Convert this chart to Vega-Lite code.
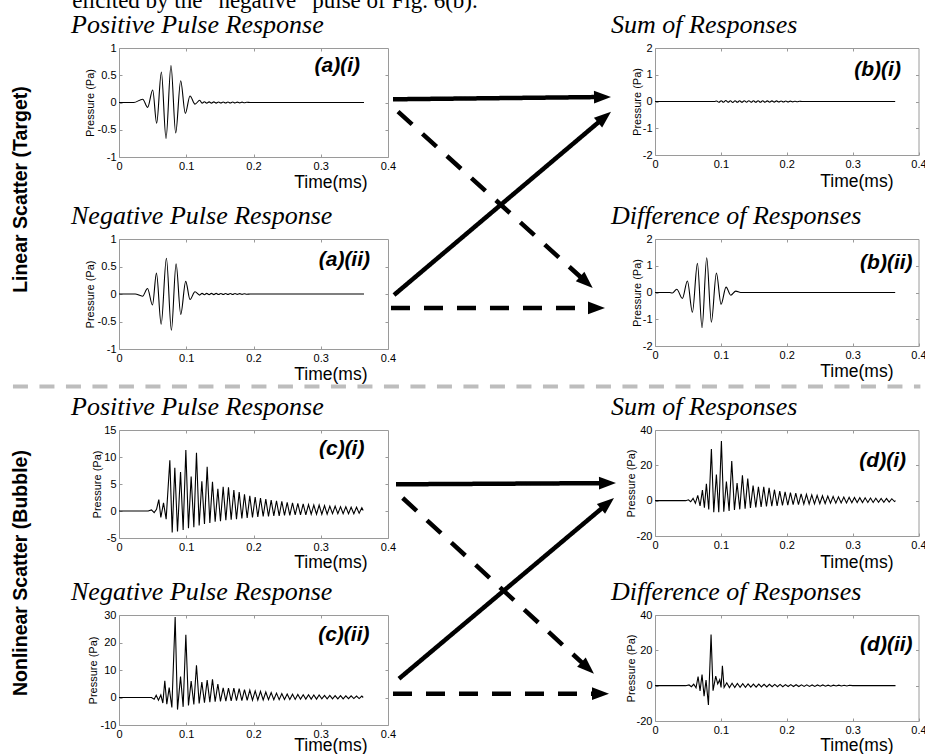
{
  "$schema": "https://vega.github.io/schema/vega-lite/v6.json",
  "padding": 0,
  "background": "white",
  "config": {
    "view": {"stroke": "#9a9a9a", "strokeWidth": 1},
    "font": "Liberation Sans",
    "title": {"font": "Liberation Serif", "fontStyle": "italic", "fontWeight": "normal", "fontSize": 26, "anchor": "start", "frame": "group", "baseline": "alphabetic", "offset": 4.5, "color": "#000"},
    "axis": {"minExtent": 0, "labelFont": "Liberation Sans", "labelFontSize": 11, "labelColor": "#000", "labelPadding": 6, "labelFlush": false, "labelOverlap": false, "domain": false, "grid": false, "tickSize": -3, "tickColor": "#9a9a9a", "tickWidth": 1, "titleFont": "Liberation Sans", "titleFontWeight": "normal", "titleColor": "#000", "titlePadding": 0},
    "axisX": {"minExtent": 0, "titleAlign": "right", "titleBaseline": "middle", "titleFontSize": 17.5},
    "axisY": {"minExtent": 0, "titleAngle": 270, "titleAlign": "center", "titleBaseline": "middle", "titleFontSize": 11},
    "axisTop": {"minExtent": 0},
    "axisRight": {"minExtent": 0}
  },
  "datasets": {
    "ai": [{"t":0,"p":0},{"t":0.022,"p":0},{"t":0.0352,"p":0.06},{"t":0.0426,"p":-0.09},{"t":0.0501,"p":0.23},{"t":0.056,"p":-0.38},{"t":0.063,"p":0.56},{"t":0.0699,"p":-0.66},{"t":0.0773,"p":0.68},{"t":0.0843,"p":-0.56},{"t":0.0917,"p":0.4},{"t":0.0986,"p":-0.2},{"t":0.1056,"p":0.12},{"t":0.113,"p":-0.03},{"t":0.12,"p":0.04},{"t":0.1235,"p":-0.012},{"t":0.127,"p":0.013},{"t":0.1305,"p":-0.012},{"t":0.134,"p":0.012},{"t":0.1375,"p":-0.011},{"t":0.141,"p":0.011},{"t":0.1445,"p":-0.011},{"t":0.148,"p":0.01},{"t":0.1515,"p":-0.01},{"t":0.155,"p":0.01},{"t":0.1585,"p":-0.009},{"t":0.162,"p":0.009},{"t":0.1655,"p":-0.009},{"t":0.169,"p":0.008},{"t":0.1725,"p":-0.008},{"t":0.176,"p":0.007},{"t":0.1795,"p":-0.007},{"t":0.183,"p":0.006},{"t":0.1865,"p":-0.005},{"t":0.19,"p":0.004},{"t":0.195,"p":0},{"t":0.3643,"p":0}],
    "aii": [{"t":0,"p":0},{"t":0.024,"p":0},{"t":0.035,"p":-0.04},{"t":0.0424,"p":0.1},{"t":0.0498,"p":-0.2},{"t":0.0557,"p":0.38},{"t":0.0627,"p":-0.55},{"t":0.0705,"p":0.65},{"t":0.0779,"p":-0.66},{"t":0.0849,"p":0.55},{"t":0.0918,"p":-0.37},{"t":0.0992,"p":0.23},{"t":0.1056,"p":-0.1},{"t":0.113,"p":0.04},{"t":0.1199,"p":-0.02},{"t":0.1235,"p":0.012},{"t":0.127,"p":-0.013},{"t":0.1305,"p":0.012},{"t":0.134,"p":-0.012},{"t":0.1375,"p":0.011},{"t":0.141,"p":-0.011},{"t":0.1445,"p":0.011},{"t":0.148,"p":-0.01},{"t":0.1515,"p":0.01},{"t":0.155,"p":-0.01},{"t":0.1585,"p":0.009},{"t":0.162,"p":-0.009},{"t":0.1655,"p":0.009},{"t":0.169,"p":-0.008},{"t":0.1725,"p":0.008},{"t":0.176,"p":-0.007},{"t":0.1795,"p":0.007},{"t":0.183,"p":-0.006},{"t":0.1865,"p":0.005},{"t":0.19,"p":-0.004},{"t":0.195,"p":0},{"t":0.3643,"p":0}],
    "bi": [{"t":0,"p":0},{"t":0.09,"p":0},{"t":0.0935,"p":0.02},{"t":0.097,"p":-0.03},{"t":0.1005,"p":0.03},{"t":0.104,"p":-0.03},{"t":0.1075,"p":0.035},{"t":0.111,"p":-0.03},{"t":0.1145,"p":0.03},{"t":0.118,"p":-0.035},{"t":0.1215,"p":0.03},{"t":0.125,"p":-0.03},{"t":0.1285,"p":0.03},{"t":0.132,"p":-0.03},{"t":0.1355,"p":0.03},{"t":0.139,"p":-0.028},{"t":0.1425,"p":0.03},{"t":0.146,"p":-0.028},{"t":0.1495,"p":0.028},{"t":0.153,"p":-0.028},{"t":0.1565,"p":0.027},{"t":0.16,"p":-0.027},{"t":0.1635,"p":0.026},{"t":0.167,"p":-0.026},{"t":0.1705,"p":0.025},{"t":0.174,"p":-0.025},{"t":0.1775,"p":0.024},{"t":0.181,"p":-0.023},{"t":0.1845,"p":0.022},{"t":0.188,"p":-0.021},{"t":0.1915,"p":0.02},{"t":0.195,"p":-0.019},{"t":0.1985,"p":0.018},{"t":0.202,"p":-0.017},{"t":0.2055,"p":0.015},{"t":0.209,"p":-0.013},{"t":0.2125,"p":0.012},{"t":0.216,"p":-0.01},{"t":0.2195,"p":0.008},{"t":0.223,"p":0},{"t":0.3646,"p":0}],
    "bii": [{"t":0,"p":0},{"t":0.022,"p":0},{"t":0.0264,"p":-0.02},{"t":0.033,"p":0.12},{"t":0.0416,"p":-0.22},{"t":0.0492,"p":0.43},{"t":0.0568,"p":-0.74},{"t":0.0644,"p":1.09},{"t":0.0714,"p":-1.32},{"t":0.0785,"p":1.3},{"t":0.0856,"p":-1.11},{"t":0.0932,"p":0.73},{"t":0.1003,"p":-0.44},{"t":0.1079,"p":0.2},{"t":0.115,"p":-0.1},{"t":0.1226,"p":0.05},{"t":0.13,"p":0},{"t":0.3646,"p":0}],
    "ci": [{"t":0,"p":0},{"t":0.0434,"p":0},{"t":0.0483,"p":0.2},{"t":0.0523,"p":-0.3},{"t":0.0558,"p":0.3},{"t":0.0592,"p":2.1},{"t":0.0622,"p":-1.2},{"t":0.0662,"p":1.5},{"t":0.0701,"p":-1.5},{"t":0.0756,"p":9.4},{"t":0.0791,"p":-4.0},{"t":0.083,"p":8.0},{"t":0.087,"p":-3.8},{"t":0.0915,"p":7.2},{"t":0.0954,"p":-3.5},{"t":0.0994,"p":11.3},{"t":0.1033,"p":-3.2},{"t":0.1073,"p":6.4},{"t":0.1113,"p":-3.0},{"t":0.1152,"p":10.8},{"t":0.1192,"p":-2.7},{"t":0.1232,"p":5.5},{"t":0.1271,"p":-2.4},{"t":0.1311,"p":8.2},{"t":0.1351,"p":-2.2},{"t":0.139,"p":5.4},{"t":0.143,"p":-2.0},{"t":0.147,"p":4.1},{"t":0.1509,"p":-1.9},{"t":0.1549,"p":4.5},{"t":0.1589,"p":-1.7},{"t":0.1628,"p":4.4},{"t":0.1668,"p":-1.6},{"t":0.1708,"p":3.9},{"t":0.1747,"p":-1.5},{"t":0.1787,"p":3.5},{"t":0.1827,"p":-1.4},{"t":0.1866,"p":3.1},{"t":0.1906,"p":-1.3},{"t":0.1945,"p":2.8},{"t":0.1985,"p":-1.2},{"t":0.2025,"p":2.6},{"t":0.2064,"p":-1.1},{"t":0.2104,"p":2.4},{"t":0.2144,"p":-1.0},{"t":0.2183,"p":2.2},{"t":0.2223,"p":-1.0},{"t":0.2263,"p":2.0},{"t":0.2302,"p":-0.9},{"t":0.2342,"p":1.9},{"t":0.2382,"p":-0.9},{"t":0.2421,"p":1.8},{"t":0.2461,"p":-0.8},{"t":0.2501,"p":1.6},{"t":0.254,"p":-0.8},{"t":0.258,"p":1.5},{"t":0.262,"p":-0.7},{"t":0.2659,"p":1.4},{"t":0.2699,"p":-0.7},{"t":0.2739,"p":1.3},{"t":0.2778,"p":-0.7},{"t":0.2818,"p":1.2},{"t":0.2858,"p":-0.6},{"t":0.2897,"p":1.1},{"t":0.2937,"p":-0.6},{"t":0.2976,"p":1.1},{"t":0.3016,"p":-0.6},{"t":0.3056,"p":1.0},{"t":0.3095,"p":-0.6},{"t":0.3135,"p":0.9},{"t":0.3175,"p":-0.5},{"t":0.3214,"p":0.9},{"t":0.3254,"p":-0.5},{"t":0.3294,"p":0.8},{"t":0.3333,"p":-0.5},{"t":0.3373,"p":0.8},{"t":0.3413,"p":-0.5},{"t":0.3452,"p":0.7},{"t":0.3492,"p":-0.5},{"t":0.3532,"p":0.7},{"t":0.3571,"p":-0.4},{"t":0.3611,"p":0.6},{"t":0.3631,"p":0.1}],
    "cii": [{"t":0,"p":0},{"t":0.0483,"p":0},{"t":0.0523,"p":-0.6},{"t":0.0553,"p":0.8},{"t":0.0587,"p":-1.0},{"t":0.0622,"p":0.9},{"t":0.0652,"p":-2.0},{"t":0.0681,"p":6.1},{"t":0.0711,"p":-2.4},{"t":0.0746,"p":3.6},{"t":0.0786,"p":-3.6},{"t":0.0835,"p":29.3},{"t":0.087,"p":-4.4},{"t":0.0915,"p":7.6},{"t":0.0954,"p":-3.4},{"t":0.0994,"p":22.8},{"t":0.1033,"p":-2.9},{"t":0.1073,"p":6.0},{"t":0.1113,"p":-2.5},{"t":0.1152,"p":11.7},{"t":0.1192,"p":-2.2},{"t":0.1232,"p":5.6},{"t":0.1271,"p":-1.9},{"t":0.1311,"p":6.3},{"t":0.1351,"p":-1.7},{"t":0.139,"p":6.6},{"t":0.143,"p":-1.5},{"t":0.147,"p":4.9},{"t":0.1509,"p":-1.4},{"t":0.1549,"p":3.5},{"t":0.1589,"p":-1.3},{"t":0.1628,"p":3.4},{"t":0.1668,"p":-1.2},{"t":0.1708,"p":3.4},{"t":0.1747,"p":-1.1},{"t":0.1787,"p":3.2},{"t":0.1827,"p":-1.1},{"t":0.1866,"p":2.9},{"t":0.1906,"p":-1.0},{"t":0.1945,"p":2.7},{"t":0.1985,"p":-1.0},{"t":0.2025,"p":2.4},{"t":0.2064,"p":-0.9},{"t":0.2104,"p":2.2},{"t":0.2144,"p":-0.9},{"t":0.2183,"p":2.0},{"t":0.2223,"p":-0.8},{"t":0.2263,"p":1.8},{"t":0.2302,"p":-0.8},{"t":0.2342,"p":1.6},{"t":0.2382,"p":-0.8},{"t":0.2421,"p":1.4},{"t":0.2461,"p":-0.7},{"t":0.2501,"p":1.3},{"t":0.254,"p":-0.7},{"t":0.258,"p":1.2},{"t":0.262,"p":-0.7},{"t":0.2659,"p":1.1},{"t":0.2699,"p":-0.6},{"t":0.2739,"p":1.0},{"t":0.2778,"p":-0.6},{"t":0.2818,"p":1.0},{"t":0.2858,"p":-0.6},{"t":0.2897,"p":0.9},{"t":0.2937,"p":-0.6},{"t":0.2976,"p":0.9},{"t":0.3016,"p":-0.5},{"t":0.3056,"p":0.8},{"t":0.3095,"p":-0.5},{"t":0.3135,"p":0.8},{"t":0.3175,"p":-0.5},{"t":0.3214,"p":0.7},{"t":0.3254,"p":-0.5},{"t":0.3294,"p":0.7},{"t":0.3333,"p":-0.5},{"t":0.3373,"p":0.6},{"t":0.3413,"p":-0.4},{"t":0.3452,"p":0.6},{"t":0.3492,"p":-0.4},{"t":0.3532,"p":0.5},{"t":0.3571,"p":-0.4},{"t":0.3611,"p":0.5},{"t":0.3631,"p":0}],
    "di": [{"t":0,"p":0},{"t":0.0466,"p":0},{"t":0.0507,"p":0.5},{"t":0.0542,"p":-0.6},{"t":0.0578,"p":1.3},{"t":0.0613,"p":-1.5},{"t":0.0649,"p":3.0},{"t":0.0684,"p":-3.0},{"t":0.072,"p":6.0},{"t":0.075,"p":-4.0},{"t":0.078,"p":9.6},{"t":0.0816,"p":-5.0},{"t":0.0856,"p":29.3},{"t":0.0892,"p":-6.5},{"t":0.0932,"p":14.8},{"t":0.0968,"p":-6.6},{"t":0.1008,"p":33.8},{"t":0.1044,"p":-6.3},{"t":0.1084,"p":10.8},{"t":0.1125,"p":-5.8},{"t":0.1165,"p":22.5},{"t":0.1206,"p":-5.3},{"t":0.1246,"p":10.0},{"t":0.1287,"p":-4.9},{"t":0.1327,"p":14.3},{"t":0.1368,"p":-4.5},{"t":0.1408,"p":12.5},{"t":0.1449,"p":-4.1},{"t":0.1489,"p":8.6},{"t":0.153,"p":-3.8},{"t":0.157,"p":7.9},{"t":0.1611,"p":-3.5},{"t":0.1651,"p":7.8},{"t":0.1692,"p":-3.3},{"t":0.1732,"p":7.2},{"t":0.1773,"p":-3.1},{"t":0.1813,"p":6.2},{"t":0.1854,"p":-2.9},{"t":0.1894,"p":5.4},{"t":0.1935,"p":-2.7},{"t":0.1975,"p":5.0},{"t":0.2016,"p":-2.5},{"t":0.2056,"p":4.6},{"t":0.2097,"p":-2.3},{"t":0.2137,"p":4.2},{"t":0.2178,"p":-2.2},{"t":0.2218,"p":3.9},{"t":0.2259,"p":-2.0},{"t":0.2299,"p":3.6},{"t":0.234,"p":-1.9},{"t":0.238,"p":3.3},{"t":0.2421,"p":-1.8},{"t":0.2461,"p":3.0},{"t":0.2502,"p":-1.7},{"t":0.2542,"p":2.8},{"t":0.2583,"p":-1.6},{"t":0.2623,"p":2.6},{"t":0.2664,"p":-1.5},{"t":0.2704,"p":2.4},{"t":0.2745,"p":-1.4},{"t":0.2785,"p":2.2},{"t":0.2826,"p":-1.3},{"t":0.2866,"p":2.0},{"t":0.2907,"p":-1.3},{"t":0.2947,"p":1.9},{"t":0.2988,"p":-1.2},{"t":0.3028,"p":1.8},{"t":0.3069,"p":-1.1},{"t":0.3109,"p":1.7},{"t":0.315,"p":-1.1},{"t":0.319,"p":1.6},{"t":0.3231,"p":-1.0},{"t":0.3271,"p":1.5},{"t":0.3312,"p":-1.0},{"t":0.3352,"p":1.4},{"t":0.3393,"p":-0.9},{"t":0.3433,"p":1.3},{"t":0.3474,"p":-0.9},{"t":0.3514,"p":1.2},{"t":0.3555,"p":-0.8},{"t":0.3595,"p":1.1},{"t":0.3636,"p":-0.5},{"t":0.3651,"p":0}],
    "dii": [{"t":0,"p":0},{"t":0.0466,"p":0},{"t":0.0517,"p":0.4},{"t":0.0552,"p":-0.6},{"t":0.0588,"p":0.8},{"t":0.0623,"p":-1.2},{"t":0.0654,"p":5.2},{"t":0.0684,"p":-3.0},{"t":0.0714,"p":6.3},{"t":0.0745,"p":-6.0},{"t":0.0775,"p":3.2},{"t":0.0811,"p":-10.9},{"t":0.0851,"p":28.9},{"t":0.0881,"p":-2.8},{"t":0.0922,"p":5.4},{"t":0.0952,"p":1.0},{"t":0.0983,"p":3.4},{"t":0.1003,"p":-1.0},{"t":0.1023,"p":11.3},{"t":0.1049,"p":-1.0},{"t":0.1089,"p":1.6},{"t":0.113,"p":-1.1},{"t":0.117,"p":1.4},{"t":0.1211,"p":-1.0},{"t":0.1251,"p":1.2},{"t":0.1292,"p":-0.9},{"t":0.1332,"p":1.1},{"t":0.1373,"p":-0.9},{"t":0.1413,"p":1.0},{"t":0.1454,"p":-0.8},{"t":0.1494,"p":0.9},{"t":0.1535,"p":-0.8},{"t":0.1575,"p":0.9},{"t":0.1616,"p":-0.7},{"t":0.1656,"p":0.8},{"t":0.1697,"p":-0.7},{"t":0.1737,"p":0.8},{"t":0.1778,"p":-0.6},{"t":0.1818,"p":0.7},{"t":0.1859,"p":-0.6},{"t":0.1899,"p":0.7},{"t":0.194,"p":-0.6},{"t":0.198,"p":0.6},{"t":0.2021,"p":-0.5},{"t":0.2061,"p":0.6},{"t":0.2102,"p":-0.5},{"t":0.2142,"p":0.5},{"t":0.2183,"p":-0.5},{"t":0.2223,"p":0.5},{"t":0.2264,"p":-0.4},{"t":0.2304,"p":0.5},{"t":0.2345,"p":-0.4},{"t":0.2385,"p":0.4},{"t":0.2426,"p":-0.4},{"t":0.2466,"p":0.4},{"t":0.2507,"p":-0.3},{"t":0.2547,"p":0.4},{"t":0.2588,"p":-0.3},{"t":0.2628,"p":0.3},{"t":0.2669,"p":-0.3},{"t":0.2709,"p":0.3},{"t":0.275,"p":-0.2},{"t":0.279,"p":0.3},{"t":0.2831,"p":-0.2},{"t":0.2871,"p":0.2},{"t":0.2912,"p":-0.2},{"t":0.2952,"p":0.2},{"t":0.3,"p":0},{"t":0.3651,"p":0}],
    "arrowsTop": [
      {"arrow": "a(i) to b(ii)", "kind": "dashed", "x1": 3.75, "y1": 21.16, "x2": 74.31, "y2": 77.84},
      {"arrow": "a(ii) to b(ii)", "kind": "dashed", "x1": 1.12, "y1": 86.38, "x2": 78.09, "y2": 86.38},
      {"arrow": "a(i) to b(i)", "kind": "solid", "x1": 1.87, "y1": 17.04, "x2": 80.34, "y2": 16.28},
      {"arrow": "a(ii) to b(i)", "kind": "solid", "x1": 2.25, "y1": 82.06, "x2": 81.09, "y2": 22.99}
    ],
    "arrowsBottom": [
      {"arrow": "c(i) to d(ii)", "kind": "dashed", "x1": 5.51, "y1": 23.05, "x2": 74.79, "y2": 80.64},
      {"arrow": "c(ii) to d(ii)", "kind": "dashed", "x1": 1.87, "y1": 89.39, "x2": 79.59, "y2": 89.39},
      {"arrow": "c(i) to d(i)", "kind": "solid", "x1": 3.0, "y1": 18.41, "x2": 82.21, "y2": 18.0},
      {"arrow": "c(ii) to d(i)", "kind": "solid", "x1": 4.12, "y1": 84.31, "x2": 82.21, "y2": 24.92}
    ]
  },
  "spacing": -8,
  "vconcat": [
    {
      "width": 925, "height": 19, "view": {"stroke": null},
      "data": {"values": [{"txt": "elicited by the “negative” pulse of Fig. 6(b)."}]},
      "mark": {"type": "text", "font": "Liberation Serif", "fontSize": 23, "align": "left", "baseline": "alphabetic", "clip": true, "color": "#000"},
      "encoding": {
        "x": {"datum": 0.078, "type": "quantitative", "scale": {"domain": [0, 1], "nice": false, "zero": false}, "axis": null},
        "y": {"datum": 0.41, "type": "quantitative", "scale": {"domain": [0, 1], "nice": false, "zero": false, "reverse": true}, "axis": null},
        "text": {"field": "txt", "type": "nominal"}
      }
    },
    {
      "spacing": 28,
      "hconcat": [
        {
          "width": 42, "height": 330, "view": {"stroke": null},
          "data": {"values": [{"txt": "Linear Scatter (Target)"}]},
          "mark": {"type": "text", "angle": 270, "font": "Liberation Sans", "fontWeight": "bold", "fontSize": 19.5, "align": "center", "baseline": "middle", "color": "#000"},
          "encoding": {
            "x": {"datum": 0.5, "type": "quantitative", "scale": {"domain": [0, 1], "nice": false, "zero": false}, "axis": null},
            "y": {"datum": 0.429, "type": "quantitative", "scale": {"domain": [0, 1], "nice": false, "zero": false, "reverse": true}, "axis": null},
            "text": {"field": "txt", "type": "nominal"}
          }
        },
        {
          "columns": 3, "bounds": "flush", "align": "each", "spacing": {"row": 0, "column": 0},
          "concat": [
            {
              "width": 269, "height": 109,
              "title": {"text": "Positive Pulse Response", "dx": -48},
              "layer": [
                {"data": {"name": "ai"}, "mark": {"type": "line", "color": "#000", "strokeWidth": 1.1, "interpolate": "monotone"},
                 "encoding": {
                   "x": {"field": "t", "type": "quantitative", "scale": {"domain": [0, 0.4], "nice": false, "zero": false}, "axis": {"values": [0, 0.1, 0.2, 0.3, 0.4], "labelExpr": "'' + datum.value", "title": "Time(ms)", "titleX": 248, "titleY": 25}},
                   "y": {"field": "p", "type": "quantitative", "scale": {"domain": [-1, 1], "nice": false, "zero": false}, "axis": {"values": [-1, -0.5, 0, 0.5, 1], "labelExpr": "'' + datum.value", "title": "Pressure (Pa)", "titleX": -29, "titleY": 54.5}}
                 }},
                {"data": {"values": [{"lab": "(a)(i)"}]}, "mark": {"type": "text", "font": "Liberation Sans", "fontWeight": "bold", "fontStyle": "italic", "fontSize": 21, "align": "right", "baseline": "middle", "color": "#000"},
                 "encoding": {
                   "x": {"datum": 0.3584, "type": "quantitative", "scale": {"domain": [0, 0.4], "nice": false, "zero": false}, "axis": {"orient": "top", "values": [0.1, 0.2, 0.3], "labels": false, "title": null}},
                   "y": {"datum": 0.67, "type": "quantitative", "scale": {"domain": [-1, 1], "nice": false, "zero": false}, "axis": {"orient": "right", "values": [-0.5, 0, 0.5], "labels": false, "title": null}},
                   "text": {"field": "lab", "type": "nominal"}
                 }}
              ],
              "resolve": {"axis": {"x": "independent", "y": "independent"}}
            },
            {
              "width": 267, "height": 191, "view": {"stroke": null},
              "data": {"name": "arrowsTop"},
              "transform": [{"calculate": "atan2((datum.y2 - datum.y1) * 3.01, (datum.x2 - datum.x1) * 2.67) * 180 / PI", "as": "ang"}],
              "layer": [
                {"mark": {"type": "rule", "strokeWidth": 4.5, "color": "#000", "strokeCap": "butt", "clip": true},
                 "encoding": {
                   "x": {"field": "x1", "type": "quantitative", "scale": {"domain": [0, 100], "nice": false, "zero": false}, "axis": null},
                   "y": {"field": "y1", "type": "quantitative", "scale": {"domain": [0, 63.46], "nice": false, "zero": false, "reverse": true}, "axis": null},
                   "x2": {"field": "x2"},
                   "y2": {"field": "y2"},
                   "strokeDash": {"field": "kind", "type": "nominal", "scale": {"domain": ["solid", "dashed"], "range": [[1, 0], [19, 14]]}, "legend": null}
                 }},
                {"mark": {"type": "point", "shape": "M-1,-0.75L1,0L-1,0.75Z", "filled": true, "size": 289, "color": "#000", "opacity": 1, "strokeWidth": 0, "clip": true},
                 "encoding": {
                   "x": {"field": "x2", "type": "quantitative"},
                   "y": {"field": "y2", "type": "quantitative"},
                   "angle": {"field": "ang", "type": "quantitative", "scale": null}
                 }}
              ]
            },
            {
              "width": 263.5, "height": 107,
              "title": {"text": "Sum of Responses", "dx": -44},
              "layer": [
                {"data": {"name": "bi"}, "mark": {"type": "line", "color": "#000", "strokeWidth": 1.1, "interpolate": "monotone"},
                 "encoding": {
                   "x": {"field": "t", "type": "quantitative", "scale": {"domain": [0, 0.4], "nice": false, "zero": false}, "axis": {"values": [0, 0.1, 0.2, 0.3, 0.4], "labelExpr": "'' + datum.value", "title": "Time(ms)", "titleX": 238, "titleY": 26}},
                   "y": {"field": "p", "type": "quantitative", "scale": {"domain": [-2, 2], "nice": false, "zero": false}, "axis": {"values": [-2, -1, 0, 1, 2], "labelExpr": "'' + datum.value", "title": "Pressure (Pa)", "titleX": -18, "titleY": 53.5}}
                 }},
                {"data": {"values": [{"lab": "(b)(i)"}]}, "mark": {"type": "text", "font": "Liberation Sans", "fontWeight": "bold", "fontStyle": "italic", "fontSize": 21, "align": "right", "baseline": "middle", "color": "#000"},
                 "encoding": {
                   "x": {"datum": 0.3733, "type": "quantitative", "scale": {"domain": [0, 0.4], "nice": false, "zero": false}, "axis": {"orient": "top", "values": [0.1, 0.2, 0.3], "labels": false, "title": null}},
                   "y": {"datum": 1.178, "type": "quantitative", "scale": {"domain": [-2, 2], "nice": false, "zero": false}, "axis": {"orient": "right", "values": [-1, 0, 1], "labels": false, "title": null}},
                   "text": {"field": "lab", "type": "nominal"}
                 }}
              ],
              "resolve": {"axis": {"x": "independent", "y": "independent"}}
            },
            {
              "width": 269, "height": 110,
              "title": {"text": "Negative Pulse Response", "dx": -48},
              "layer": [
                {"data": {"name": "aii"}, "mark": {"type": "line", "color": "#000", "strokeWidth": 1.1, "interpolate": "monotone"},
                 "encoding": {
                   "x": {"field": "t", "type": "quantitative", "scale": {"domain": [0, 0.4], "nice": false, "zero": false}, "axis": {"values": [0, 0.1, 0.2, 0.3, 0.4], "labelExpr": "'' + datum.value", "title": "Time(ms)", "titleX": 248, "titleY": 25}},
                   "y": {"field": "p", "type": "quantitative", "scale": {"domain": [-1, 1], "nice": false, "zero": false}, "axis": {"values": [-1, -0.5, 0, 0.5, 1], "labelExpr": "'' + datum.value", "title": "Pressure (Pa)", "titleX": -29, "titleY": 55}}
                 }},
                {"data": {"values": [{"lab": "(a)(ii)"}]}, "mark": {"type": "text", "font": "Liberation Sans", "fontWeight": "bold", "fontStyle": "italic", "fontSize": 21, "align": "right", "baseline": "middle", "color": "#000"},
                 "encoding": {
                   "x": {"datum": 0.3733, "type": "quantitative", "scale": {"domain": [0, 0.4], "nice": false, "zero": false}, "axis": {"orient": "top", "values": [0.1, 0.2, 0.3], "labels": false, "title": null}},
                   "y": {"datum": 0.618, "type": "quantitative", "scale": {"domain": [-1, 1], "nice": false, "zero": false}, "axis": {"orient": "right", "values": [-0.5, 0, 0.5], "labels": false, "title": null}},
                   "text": {"field": "lab", "type": "nominal"}
                 }}
              ],
              "resolve": {"axis": {"x": "independent", "y": "independent"}}
            },
            {
              "width": 267, "height": 110, "view": {"stroke": null},
              "data": {"name": "arrowsTop"},
              "transform": [{"calculate": "atan2((datum.y2 - datum.y1) * 3.01, (datum.x2 - datum.x1) * 2.67) * 180 / PI", "as": "ang"}],
              "layer": [
                {"mark": {"type": "rule", "strokeWidth": 4.5, "color": "#000", "strokeCap": "butt", "clip": true},
                 "encoding": {
                   "x": {"field": "x1", "type": "quantitative", "scale": {"domain": [0, 100], "nice": false, "zero": false}, "axis": null},
                   "y": {"field": "y1", "type": "quantitative", "scale": {"domain": [63.46, 100], "nice": false, "zero": false, "reverse": true}, "axis": null},
                   "x2": {"field": "x2"},
                   "y2": {"field": "y2"},
                   "strokeDash": {"field": "kind", "type": "nominal", "scale": {"domain": ["solid", "dashed"], "range": [[1, 0], [19, 14]]}, "legend": null}
                 }},
                {"mark": {"type": "point", "shape": "M-1,-0.75L1,0L-1,0.75Z", "filled": true, "size": 289, "color": "#000", "opacity": 1, "strokeWidth": 0, "clip": true},
                 "encoding": {
                   "x": {"field": "x2", "type": "quantitative"},
                   "y": {"field": "y2", "type": "quantitative"},
                   "angle": {"field": "ang", "type": "quantitative", "scale": null}
                 }}
              ]
            },
            {
              "width": 263.5, "height": 107,
              "title": {"text": "Difference of Responses", "dx": -44},
              "layer": [
                {"data": {"name": "bii"}, "mark": {"type": "line", "color": "#000", "strokeWidth": 1.1, "interpolate": "monotone"},
                 "encoding": {
                   "x": {"field": "t", "type": "quantitative", "scale": {"domain": [0, 0.4], "nice": false, "zero": false}, "axis": {"values": [0, 0.1, 0.2, 0.3, 0.4], "labelExpr": "'' + datum.value", "title": "Time(ms)", "titleX": 238, "titleY": 25}},
                   "y": {"field": "p", "type": "quantitative", "scale": {"domain": [-2, 2], "nice": false, "zero": false}, "axis": {"values": [-2, -1, 0, 1, 2], "labelExpr": "'' + datum.value", "title": "Pressure (Pa)", "titleX": -18, "titleY": 53.5}}
                 }},
                {"data": {"values": [{"lab": "(b)(ii)"}]}, "mark": {"type": "text", "font": "Liberation Sans", "fontWeight": "bold", "fontStyle": "italic", "fontSize": 21, "align": "right", "baseline": "middle", "color": "#000"},
                 "encoding": {
                   "x": {"datum": 0.391, "type": "quantitative", "scale": {"domain": [0, 0.4], "nice": false, "zero": false}, "axis": {"orient": "top", "values": [0.1, 0.2, 0.3], "labels": false, "title": null}},
                   "y": {"datum": 1.12, "type": "quantitative", "scale": {"domain": [-2, 2], "nice": false, "zero": false}, "axis": {"orient": "right", "values": [-1, 0, 1], "labels": false, "title": null}},
                   "text": {"field": "lab", "type": "nominal"}
                 }}
              ],
              "resolve": {"axis": {"x": "independent", "y": "independent"}}
            }
          ]
        }
      ]
    },
    {
      "width": 925, "height": 18, "view": {"stroke": null},
      "data": {"values": [{"divider": "linear / nonlinear"}]},
      "mark": {"type": "rule", "color": "#bdbdbd", "strokeWidth": 4, "strokeDash": [15, 11.5]},
      "encoding": {
        "x": {"datum": 0.014, "type": "quantitative", "scale": {"domain": [0, 1], "nice": false, "zero": false}, "axis": null},
        "x2": {"datum": 0.995},
        "y": {"datum": 0.194, "type": "quantitative", "scale": {"domain": [0, 1], "nice": false, "zero": false, "reverse": true}, "axis": null}
      }
    },
    {
      "spacing": 28,
      "hconcat": [
        {
          "width": 42, "height": 320, "view": {"stroke": null},
          "data": {"values": [{"txt": "Nonlinear Scatter (Bubble)"}]},
          "mark": {"type": "text", "angle": 270, "font": "Liberation Sans", "fontWeight": "bold", "fontSize": 19.5, "align": "center", "baseline": "middle", "color": "#000"},
          "encoding": {
            "x": {"datum": 0.5, "type": "quantitative", "scale": {"domain": [0, 1], "nice": false, "zero": false}, "axis": null},
            "y": {"datum": 0.447, "type": "quantitative", "scale": {"domain": [0, 1], "nice": false, "zero": false, "reverse": true}, "axis": null},
            "text": {"field": "txt", "type": "nominal"}
          }
        },
        {
          "columns": 3, "bounds": "flush", "align": "each", "spacing": {"row": 0, "column": 0},
          "concat": [
            {
              "width": 269, "height": 108,
              "title": {"text": "Positive Pulse Response", "dx": -48},
              "layer": [
                {"data": {"name": "ci"}, "mark": {"type": "line", "color": "#000", "strokeWidth": 1.1},
                 "encoding": {
                   "x": {"field": "t", "type": "quantitative", "scale": {"domain": [0, 0.4], "nice": false, "zero": false}, "axis": {"values": [0, 0.1, 0.2, 0.3, 0.4], "labelExpr": "'' + datum.value", "title": "Time(ms)", "titleX": 248, "titleY": 24}},
                   "y": {"field": "p", "type": "quantitative", "scale": {"domain": [-5, 15], "nice": false, "zero": false}, "axis": {"values": [-5, 0, 5, 10, 15], "labelExpr": "'' + datum.value", "title": "Pressure (Pa)", "titleX": -21.5, "titleY": 54}}
                 }},
                {"data": {"values": [{"lab": "(c)(i)"}]}, "mark": {"type": "text", "font": "Liberation Sans", "fontWeight": "bold", "fontStyle": "italic", "fontSize": 21, "align": "right", "baseline": "middle", "color": "#000"},
                 "encoding": {
                   "x": {"datum": 0.365, "type": "quantitative", "scale": {"domain": [0, 0.4], "nice": false, "zero": false}, "axis": {"orient": "top", "values": [0.1, 0.2, 0.3], "labels": false, "title": null}},
                   "y": {"datum": 11.5, "type": "quantitative", "scale": {"domain": [-5, 15], "nice": false, "zero": false}, "axis": {"orient": "right", "values": [0, 5, 10], "labels": false, "title": null}},
                   "text": {"field": "lab", "type": "nominal"}
                 }}
              ],
              "resolve": {"axis": {"x": "independent", "y": "independent"}}
            },
            {
              "width": 267, "height": 185, "view": {"stroke": null},
              "data": {"name": "arrowsBottom"},
              "transform": [{"calculate": "atan2((datum.y2 - datum.y1) * 2.95, (datum.x2 - datum.x1) * 2.67) * 180 / PI", "as": "ang"}],
              "layer": [
                {"mark": {"type": "rule", "strokeWidth": 4.5, "color": "#000", "strokeCap": "butt", "clip": true},
                 "encoding": {
                   "x": {"field": "x1", "type": "quantitative", "scale": {"domain": [0, 100], "nice": false, "zero": false}, "axis": null},
                   "y": {"field": "y1", "type": "quantitative", "scale": {"domain": [0, 62.71], "nice": false, "zero": false, "reverse": true}, "axis": null},
                   "x2": {"field": "x2"},
                   "y2": {"field": "y2"},
                   "strokeDash": {"field": "kind", "type": "nominal", "scale": {"domain": ["solid", "dashed"], "range": [[1, 0], [19, 14]]}, "legend": null}
                 }},
                {"mark": {"type": "point", "shape": "M-1,-0.75L1,0L-1,0.75Z", "filled": true, "size": 289, "color": "#000", "opacity": 1, "strokeWidth": 0, "clip": true},
                 "encoding": {
                   "x": {"field": "x2", "type": "quantitative"},
                   "y": {"field": "y2", "type": "quantitative"},
                   "angle": {"field": "ang", "type": "quantitative", "scale": null}
                 }}
              ]
            },
            {
              "width": 263.5, "height": 106,
              "title": {"text": "Sum of Responses", "dx": -44},
              "layer": [
                {"data": {"name": "di"}, "mark": {"type": "line", "color": "#000", "strokeWidth": 1.1},
                 "encoding": {
                   "x": {"field": "t", "type": "quantitative", "scale": {"domain": [0, 0.4], "nice": false, "zero": false}, "axis": {"values": [0, 0.1, 0.2, 0.3, 0.4], "labelExpr": "'' + datum.value", "title": "Time(ms)", "titleX": 238, "titleY": 26}},
                   "y": {"field": "p", "type": "quantitative", "scale": {"domain": [-20, 40], "nice": false, "zero": false}, "axis": {"values": [-20, 0, 20, 40], "labelExpr": "'' + datum.value", "title": "Pressure (Pa)", "titleX": -24, "titleY": 53}}
                 }},
                {"data": {"values": [{"lab": "(d)(i)"}]}, "mark": {"type": "text", "font": "Liberation Sans", "fontWeight": "bold", "fontStyle": "italic", "fontSize": 21, "align": "right", "baseline": "middle", "color": "#000"},
                 "encoding": {
                   "x": {"datum": 0.381, "type": "quantitative", "scale": {"domain": [0, 0.4], "nice": false, "zero": false}, "axis": {"orient": "top", "values": [0.1, 0.2, 0.3], "labels": false, "title": null}},
                   "y": {"datum": 22.5, "type": "quantitative", "scale": {"domain": [-20, 40], "nice": false, "zero": false}, "axis": {"orient": "right", "values": [0, 20], "labels": false, "title": null}},
                   "text": {"field": "lab", "type": "nominal"}
                 }}
              ],
              "resolve": {"axis": {"x": "independent", "y": "independent"}}
            },
            {
              "width": 269, "height": 110,
              "title": {"text": "Negative Pulse Response", "dx": -48},
              "layer": [
                {"data": {"name": "cii"}, "mark": {"type": "line", "color": "#000", "strokeWidth": 1.1},
                 "encoding": {
                   "x": {"field": "t", "type": "quantitative", "scale": {"domain": [0, 0.4], "nice": false, "zero": false}, "axis": {"values": [0, 0.1, 0.2, 0.3, 0.4], "labelExpr": "'' + datum.value", "title": "Time(ms)", "titleX": 248, "titleY": 20.5}},
                   "y": {"field": "p", "type": "quantitative", "scale": {"domain": [-10, 30], "nice": false, "zero": false}, "axis": {"values": [-10, 0, 10, 20, 30], "labelExpr": "'' + datum.value", "title": "Pressure (Pa)", "titleX": -25.5, "titleY": 55}}
                 }},
                {"data": {"values": [{"lab": "(c)(ii)"}]}, "mark": {"type": "text", "font": "Liberation Sans", "fontWeight": "bold", "fontStyle": "italic", "fontSize": 21, "align": "right", "baseline": "middle", "color": "#000"},
                 "encoding": {
                   "x": {"datum": 0.3725, "type": "quantitative", "scale": {"domain": [0, 0.4], "nice": false, "zero": false}, "axis": {"orient": "top", "values": [0.1, 0.2, 0.3], "labels": false, "title": null}},
                   "y": {"datum": 22.7, "type": "quantitative", "scale": {"domain": [-10, 30], "nice": false, "zero": false}, "axis": {"orient": "right", "values": [0, 10, 20], "labels": false, "title": null}},
                   "text": {"field": "lab", "type": "nominal"}
                 }}
              ],
              "resolve": {"axis": {"x": "independent", "y": "independent"}}
            },
            {
              "width": 267, "height": 110, "view": {"stroke": null},
              "data": {"name": "arrowsBottom"},
              "transform": [{"calculate": "atan2((datum.y2 - datum.y1) * 2.95, (datum.x2 - datum.x1) * 2.67) * 180 / PI", "as": "ang"}],
              "layer": [
                {"mark": {"type": "rule", "strokeWidth": 4.5, "color": "#000", "strokeCap": "butt", "clip": true},
                 "encoding": {
                   "x": {"field": "x1", "type": "quantitative", "scale": {"domain": [0, 100], "nice": false, "zero": false}, "axis": null},
                   "y": {"field": "y1", "type": "quantitative", "scale": {"domain": [62.71, 100], "nice": false, "zero": false, "reverse": true}, "axis": null},
                   "x2": {"field": "x2"},
                   "y2": {"field": "y2"},
                   "strokeDash": {"field": "kind", "type": "nominal", "scale": {"domain": ["solid", "dashed"], "range": [[1, 0], [19, 14]]}, "legend": null}
                 }},
                {"mark": {"type": "point", "shape": "M-1,-0.75L1,0L-1,0.75Z", "filled": true, "size": 289, "color": "#000", "opacity": 1, "strokeWidth": 0, "clip": true},
                 "encoding": {
                   "x": {"field": "x2", "type": "quantitative"},
                   "y": {"field": "y2", "type": "quantitative"},
                   "angle": {"field": "ang", "type": "quantitative", "scale": null}
                 }}
              ]
            },
            {
              "width": 263.5, "height": 106,
              "title": {"text": "Difference of Responses", "dx": -44},
              "layer": [
                {"data": {"name": "dii"}, "mark": {"type": "line", "color": "#000", "strokeWidth": 1.1},
                 "encoding": {
                   "x": {"field": "t", "type": "quantitative", "scale": {"domain": [0, 0.4], "nice": false, "zero": false}, "axis": {"values": [0, 0.1, 0.2, 0.3, 0.4], "labelExpr": "'' + datum.value", "title": "Time(ms)", "titleX": 238, "titleY": 24.5}},
                   "y": {"field": "p", "type": "quantitative", "scale": {"domain": [-20, 40], "nice": false, "zero": false}, "axis": {"values": [-20, 0, 20, 40], "labelExpr": "'' + datum.value", "title": "Pressure (Pa)", "titleX": -23.5, "titleY": 53}}
                 }},
                {"data": {"values": [{"lab": "(d)(ii)"}]}, "mark": {"type": "text", "font": "Liberation Sans", "fontWeight": "bold", "fontStyle": "italic", "fontSize": 21, "align": "right", "baseline": "middle", "color": "#000"},
                 "encoding": {
                   "x": {"datum": 0.391, "type": "quantitative", "scale": {"domain": [0, 0.4], "nice": false, "zero": false}, "axis": {"orient": "top", "values": [0.1, 0.2, 0.3], "labels": false, "title": null}},
                   "y": {"datum": 23, "type": "quantitative", "scale": {"domain": [-20, 40], "nice": false, "zero": false}, "axis": {"orient": "right", "values": [0, 20], "labels": false, "title": null}},
                   "text": {"field": "lab", "type": "nominal"}
                 }}
              ],
              "resolve": {"axis": {"x": "independent", "y": "independent"}}
            }
          ]
        }
      ]
    }
  ]
}
